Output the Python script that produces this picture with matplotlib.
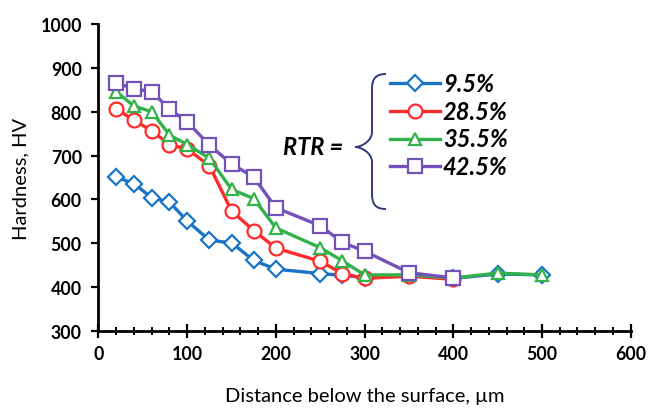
import matplotlib
matplotlib.use("Agg")
import matplotlib.pyplot as plt
from matplotlib.path import Path
from matplotlib.patches import PathPatch
from matplotlib.lines import Line2D
from matplotlib.ticker import MultipleLocator

plt.rcParams['font.family'] = ['Lato', 'DejaVu Sans']

distance_a = [20, 40, 60, 80, 100, 125, 150, 175, 200, 250, 275, 300, 350, 400, 450, 500]
distance_b = [20, 40, 60, 80, 100, 125, 150, 175, 200, 250, 275, 300, 350, 400]

rtr_labels = ["9.5%", "28.5%", "35.5%", "42.5%"]
hv_95 = [651, 636, 604, 594, 551, 507, 501, 461, 441, 431, 427, 422, 428, 420, 430, 428]
hv_285 = [807, 780, 757, 725, 715, 677, 574, 529, 489, 459, 431, 420, 425, 418]
hv_355 = [846, 813, 800, 747, 725, 694, 623, 602, 535, 490, 460, 428, 428, 421, 432, 428]
hv_425 = [866, 852, 846, 806, 777, 724, 681, 651, 581, 540, 502, 482, 433, 421]

colors = ['#1a74c6', '#ff2b2b', '#33b14a', '#7252b8']
markers = ['D', 'o', '^', 's']
msizes = [8.5, 10, 9, 9.5]

series = [(distance_a, hv_95), (distance_b, hv_285), (distance_a, hv_355), (distance_b, hv_425)]

fig = plt.figure(figsize=(6.51, 4.10), dpi=100)
ax = fig.add_axes([0.1513, 0.1902, 0.8175, 0.7488])

for (xs, ys), c, m, ms, lab in zip(series, colors, markers, msizes, rtr_labels):
    ax.plot(xs, ys, color=c, lw=2.4, marker=m, ms=ms, mfc='white', mec=c, mew=1.6, label=lab)

ax.set_xlim(0, 600)
ax.set_ylim(300, 1000)
ax.xaxis.set_major_locator(MultipleLocator(100))
ax.xaxis.set_minor_locator(MultipleLocator(20))
ax.yaxis.set_major_locator(MultipleLocator(100))
for s in ['top', 'right']:
    ax.spines[s].set_visible(False)
for s in ['left', 'bottom']:
    ax.spines[s].set_linewidth(2.0)
    ax.spines[s].set_color('black')
ax.tick_params(axis='x', which='major', direction='inout', length=10, width=1.6, pad=5)
ax.tick_params(axis='x', which='minor', direction='inout', length=6, width=1.4)
ax.tick_params(axis='y', which='major', direction='out', length=5, width=1.6, pad=7)
for lbl in ax.get_xticklabels() + ax.get_yticklabels():
    lbl.set_fontweight('bold')
    lbl.set_fontsize(12.8)

ax.set_xlabel("Distance below the surface, µm", fontsize=14.5, labelpad=18)
ax.set_ylabel("Hardness, HV", fontsize=14.5, labelpad=8)

# legend drawn as handle lines + text (axes fraction coordinates)
def fx(px):
    return (px - 98.5) / 532.2

def fy(py):
    return (332 - py) / 307.0

row_py = [84, 112, 139.5, 167]
for lab, c, m, ms, py in zip(rtr_labels, colors, markers, msizes, row_py):
    ax.add_line(Line2D([fx(390), fx(440)], [fy(py), fy(py)], transform=ax.transAxes,
                       color=c, lw=2.4, clip_on=False))
    ax.add_line(Line2D([fx(415)], [fy(py)], transform=ax.transAxes, color=c, lw=0,
                       marker=m, ms=ms, mfc='white', mec=c, mew=1.6, clip_on=False))
    ax.text(fx(443), fy(py), lab, transform=ax.transAxes, fontsize=17,
            fontweight='bold', fontstyle='italic', ha='left', va='center')

ax.text(fx(343), fy(147), "RTR =", transform=ax.transAxes, fontsize=17,
        fontweight='bold', fontstyle='italic', ha='right', va='center')

# curly brace (pixel-like positions converted to axes fraction)
xm, xv, xt = fx(355), fx(372), fx(386)
yt, ym, yb = fy(75), fy(148), fy(210)
d = 6 / 307.0
verts = [
    (xt, yt), (xv + 0.005, yt), (xv, yt - d), (xv, yt - 2.5 * d),
    (xv, ym + 2.5 * d), (xv, ym + d), (xm + 0.012, ym), (xm, ym),
    (xm + 0.012, ym), (xv, ym - d), (xv, ym - 2.5 * d),
    (xv, yb + 2.5 * d), (xv, yb + d), (xv + 0.005, yb), (xt, yb),
]
codes = [Path.MOVETO, Path.CURVE4, Path.CURVE4, Path.CURVE4,
         Path.LINETO, Path.CURVE4, Path.CURVE4, Path.CURVE4,
         Path.CURVE4, Path.CURVE4, Path.CURVE4,
         Path.LINETO, Path.CURVE4, Path.CURVE4, Path.CURVE4]
ax.add_patch(PathPatch(Path(verts, codes), transform=ax.transAxes, fill=False,
                       ec='#2f3a7e', lw=1.4, clip_on=False))

fig.savefig("out.png", dpi=100)
